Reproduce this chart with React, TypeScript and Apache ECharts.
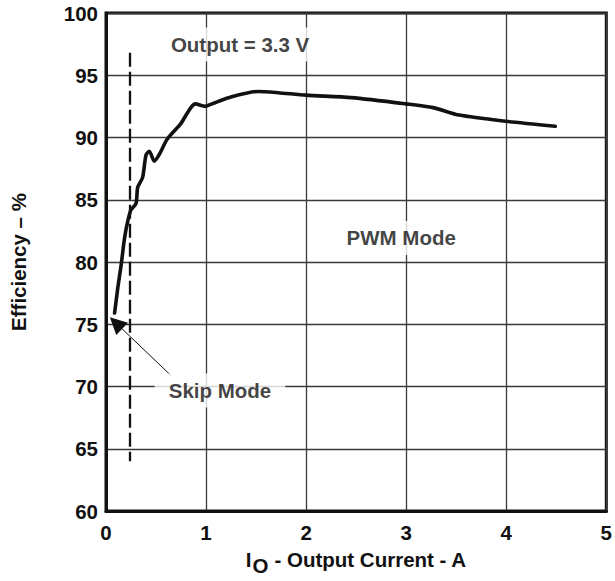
import React, { useEffect, useRef } from "react";
import * as echarts from "echarts";

const currentA = [0.086, 0.119, 0.152, 0.185, 0.218, 0.25, 0.3, 0.317, 0.366, 0.4, 0.433, 0.482, 0.53, 0.614, 0.746, 0.894, 0.993, 1.059, 1.225, 1.52, 1.72, 2.0, 2.45, 3.0, 3.27, 3.53, 4.0, 4.49];
const efficiency = [75.9, 78.0, 79.8, 81.9, 83.3, 84.2, 84.7, 86.0, 86.8, 88.6, 88.9, 88.1, 88.6, 89.9, 91.1, 92.7, 92.5, 92.7, 93.2, 93.7, 93.6, 93.4, 93.2, 92.7, 92.4, 91.8, 91.3, 90.9];

const xTicks = [0, 1, 2, 3, 4, 5];
const yTicks = [60, 65, 70, 75, 80, 85, 90, 95, 100];

const skipBoundary = [[0.235, 96.8], [0.235, 64.0]];
const skipArrow = [[0.66, 70.8], [0.1, 75.1]];

const annotations = [
  { name: "Output = 3.3 V", value: [1.34, 97.47] },
  { name: "PWM Mode", value: [2.95, 81.93] },
  { name: "Skip Mode", value: [1.139, 69.68] },
];

const FONT = "Liberation Sans, Arial, Helvetica, sans-serif";
const INK = "#111";

export default function App() {
  const ref = useRef<HTMLDivElement>(null);
  useEffect(() => {
    if (!ref.current) return;
    const chart = echarts.init(ref.current, undefined, { renderer: "svg" });
    const labelBase = { fontFamily: FONT, fontWeight: "bold", fontSize: 20.5, color: INK };
    chart.setOption({
      animation: false,
      backgroundColor: "#fff",
      grid: {
        left: 103, right: 7, top: 13, bottom: 62,
        show: true, borderColor: INK, borderWidth: 3, backgroundColor: "transparent",
      },
      xAxis: {
        type: "value",
        min: xTicks[0], max: xTicks[xTicks.length - 1], interval: 1,
        axisLine: { show: true, lineStyle: { color: INK, width: 3 } },
        axisTick: { show: false },
        splitLine: { show: true, lineStyle: { color: "#3a3a3a", width: 1.3 } },
        axisLabel: { ...labelBase, margin: 11 },
        name: "{a|I}{b|O}{a| - Output Current - A}",
        nameLocation: "middle",
        nameGap: 38,
        nameTextStyle: {
          rich: {
            a: { ...labelBase, verticalAlign: "top", lineHeight: 22 },
            b: { ...labelBase, verticalAlign: "top", lineHeight: 22, padding: [6, 0, 0, 1] },
          },
        },
      },
      yAxis: {
        type: "value",
        min: yTicks[0], max: yTicks[yTicks.length - 1], interval: 5,
        axisLine: { show: true, lineStyle: { color: INK, width: 3 } },
        axisTick: { show: false },
        splitLine: { show: true, lineStyle: { color: "#3a3a3a", width: 1.3 } },
        axisLabel: { ...labelBase, margin: 8 },
        name: "Efficiency – %",
        nameLocation: "middle",
        nameGap: 77,
        nameTextStyle: { ...labelBase },
      },
      series: [
        {
          type: "lines",
          coordinateSystem: "cartesian2d",
          symbol: ["none", "none"],
          lineStyle: { color: INK, width: 2.3, type: [14, 5], opacity: 1 },
          data: [{ coords: skipBoundary }],
          z: 3,
        },
        {
          type: "line",
          data: currentA.map((x, i) => [x, efficiency[i]]),
          showSymbol: false,
          smooth: 0.25,
          lineStyle: { color: INK, width: 3.6, cap: "round", join: "round" },
          z: 4,
        },
        {
          type: "lines",
          coordinateSystem: "cartesian2d",
          symbol: ["none", "triangle"],
          symbolSize: [13, 17],
          lineStyle: { color: INK, width: 1, opacity: 1 },
          itemStyle: { color: INK },
          data: [{ coords: skipArrow }],
          z: 5,
        },
        {
          type: "scatter",
          symbolSize: 1,
          itemStyle: { color: "transparent" },
          data: annotations,
          z: 6,
          label: {
            show: true,
            position: "inside",
            formatter: "{b}",
            ...labelBase,
            lineHeight: 20,
            backgroundColor: "#fff",
            padding: [7, 14],
          },
        },
      ],
    });
    return () => chart.dispose();
  }, []);
  return (
    <div
      ref={ref}
      style={{ position: "fixed", left: 0, top: 0, width: 615, height: 581, background: "#fff" }}
    />
  );
}
